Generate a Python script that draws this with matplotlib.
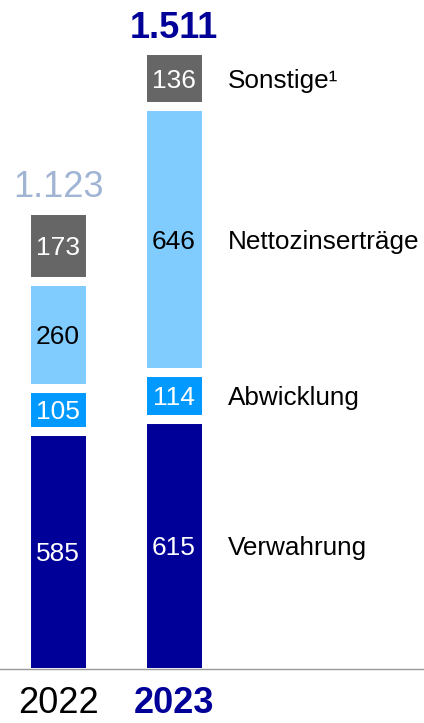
import matplotlib
matplotlib.use("Agg")
import matplotlib.pyplot as plt
import numpy as np

plt.rcParams['font.family'] = ['Liberation Sans', 'DejaVu Sans']

# data (EUR m, stacked from bottom to top)
years = ['2022', '2023']
categories = ['Verwahrung', 'Abwicklung', 'Nettozinserträge', 'Sonstige¹']
values_2022 = [585, 105, 260, 173]
values_2023 = [615, 114, 646, 136]
totals = ['1.123', '1.511']

seg_colors = ['#000099', '#0099FF', '#80CCFF', '#666666']
label_colors = ['white', 'white', 'black', 'white']

fig = plt.figure(figsize=(4.24, 7.23), dpi=100)
ax = fig.add_axes([0, 0, 1, 1])
ax.set_xlim(-0.5, 3.155)
ax.set_ylim(-125.3, 1633.8)
ax.axis('off')

x = np.arange(len(years))
data = np.array([values_2022, values_2023])
bottoms = np.zeros(len(years))
for i, cat in enumerate(categories):
    vals = data[:, i]
    ax.bar(x, vals, bottom=bottoms, width=0.56, color=seg_colors[i],
           edgecolor='white', linewidth=6.5, zorder=2)
    for j in range(len(years)):
        ax.text(x[j], bottoms[j] + vals[j] / 2, str(vals[j]), ha='center',
                va='center_baseline', fontsize=19, color=label_colors[i], zorder=3)
    # category names next to the 2023 bar
    ax.text(1.466, bottoms[-1] + vals[-1] / 2, cat, ha='left',
            va='center_baseline', fontsize=18.8, color='black')
    bottoms += vals

# totals above bars
ax.annotate(totals[0], (x[0], bottoms[0]), xytext=(0, 9), textcoords='offset points',
            ha='center', va='baseline', fontsize=26, color='#A0B4D4')
ax.annotate(totals[1], (x[1], bottoms[1]), xytext=(0, 9), textcoords='offset points',
            ha='center', va='baseline', fontsize=26, color='#000099', fontweight='bold')

# baseline
ax.axhline(6, color='#999999', linewidth=1, zorder=4)

# year labels
ax.annotate(years[0], (x[0], 0), xytext=(0, -30), textcoords='offset points',
            ha='center', va='baseline', fontsize=26, color='black')
ax.annotate(years[1], (x[1], 0), xytext=(0, -30), textcoords='offset points',
            ha='center', va='baseline', fontsize=26, color='#000099', fontweight='bold')

fig.savefig('out.png', dpi=100)
